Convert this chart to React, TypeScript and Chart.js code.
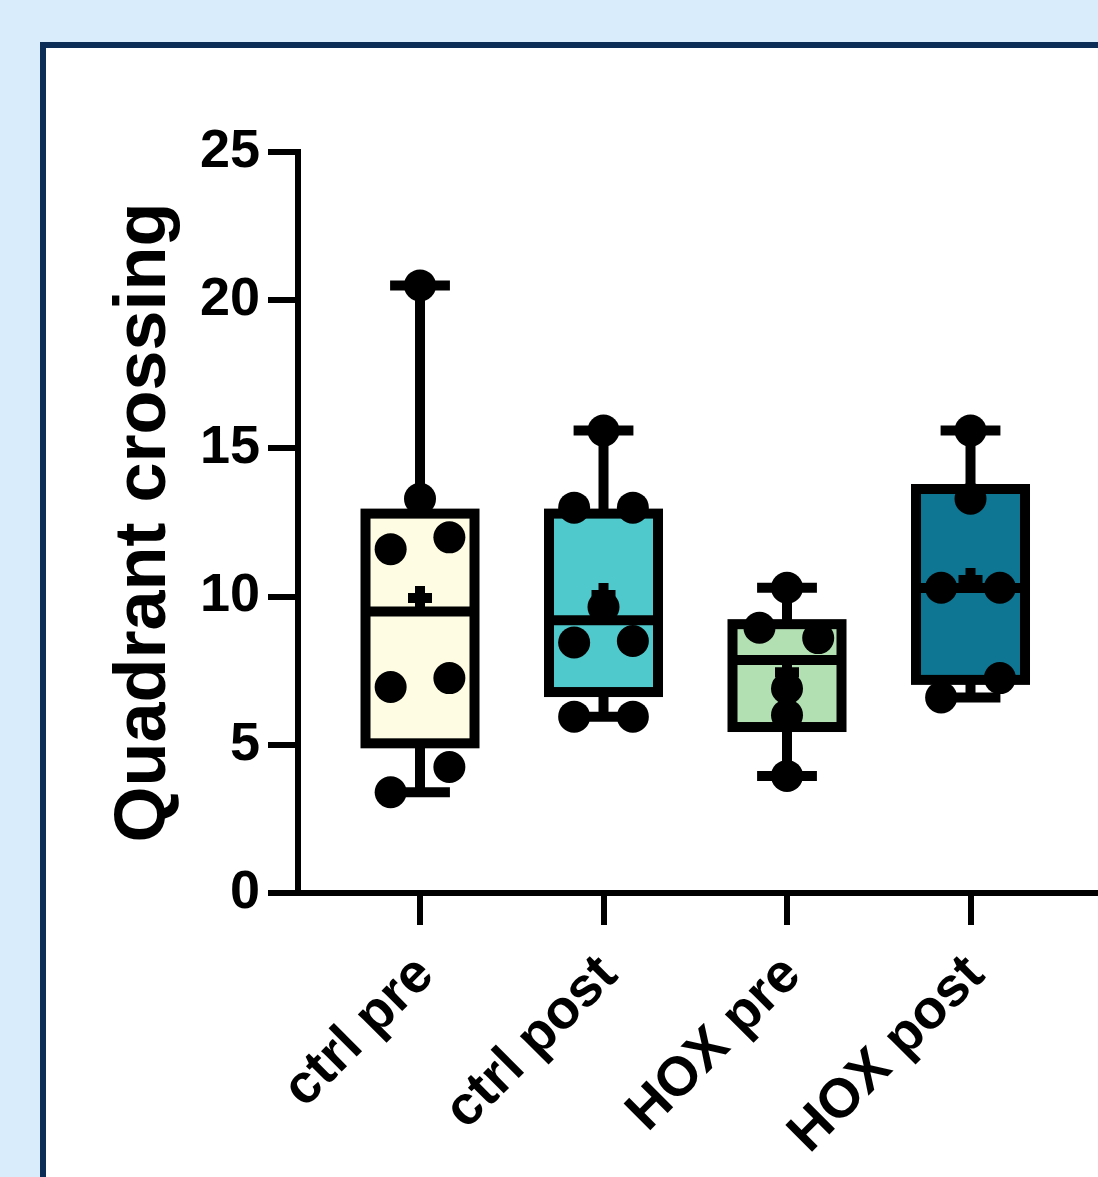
import React, { useEffect, useRef } from 'react';
import { Chart, registerables } from 'chart.js';

Chart.register(...registerables);

// ---- data ----
const categories = ['ctrl pre', 'ctrl post', 'HOX pre', 'HOX post'];

const ctrlPre = [20.5, 13.3, 12.0, 11.6, 7.25, 6.95, 4.25, 3.4];
const ctrlPreJitter = [0, 0, 0.16, -0.16, 0.16, -0.16, 0.16, -0.16];
const ctrlPost = [15.6, 13.0, 13.0, 9.65, 8.5, 8.45, 5.95, 5.95];
const ctrlPostJitter = [0, -0.16, 0.16, 0, 0.16, -0.16, -0.16, 0.16];
const hoxPre = [10.3, 8.95, 8.6, 6.9, 6.0, 3.95];
const hoxPreJitter = [0, -0.15, 0.17, 0, 0, 0];
const hoxPost = [15.6, 13.3, 10.3, 10.3, 7.25, 6.6];
const hoxPostJitter = [0, 0, -0.16, 0.16, 0.16, -0.16];

// box statistics per group (min, q1, median, q3, max, mean)
const whiskerMin = [3.4, 5.95, 3.95, 6.6];
const quartile1 = [5.05, 6.78, 5.6, 7.19];
const medians = [9.5, 9.2, 7.86, 10.29];
const quartile3 = [12.8, 12.8, 9.07, 13.63];
const whiskerMax = [20.5, 15.6, 10.3, 15.6];
const means = [9.95, 10.05, 7.45, 10.56];

const groupFills = ['#fefde4', '#4fc9cc', '#b2e0b3', '#0e7692'];
const yTickValues = [0, 5, 10, 15, 20, 25];

const groups = [ctrlPre, ctrlPost, hoxPre, hoxPost];
const jitters = [ctrlPreJitter, ctrlPostJitter, hoxPreJitter, hoxPostJitter];

const FONT = "'Liberation Sans', Arial, Helvetica, sans-serif";
const BOX_HALF = 0.297;
const CAP_HALF = 0.163;
const LINE_W = 10;
const X_MIN = 0.3351;
const X_MAX = 4.7057;
const LABEL_SHIFT = 0.03;

const boxPlugin = {
  id: 'boxWhisker',
  beforeDatasetsDraw(chart: any) {
    const { ctx } = chart;
    const xs = chart.scales.x;
    const ys = chart.scales.y;
    const line = (x1: number, y1: number, x2: number, y2: number) => {
      ctx.beginPath();
      ctx.moveTo(x1, y1);
      ctx.lineTo(x2, y2);
      ctx.stroke();
    };
    categories.forEach((_, i) => {
      const c = i + 1;
      const xc = xs.getPixelForValue(c);
      const xl = xs.getPixelForValue(c - BOX_HALF);
      const xr = xs.getPixelForValue(c + BOX_HALF);
      const cl = xs.getPixelForValue(c - CAP_HALF);
      const cr = xs.getPixelForValue(c + CAP_HALF);
      const yMin = ys.getPixelForValue(whiskerMin[i]);
      const yQ1 = ys.getPixelForValue(quartile1[i]);
      const yMed = ys.getPixelForValue(medians[i]);
      const yQ3 = ys.getPixelForValue(quartile3[i]);
      const yMax = ys.getPixelForValue(whiskerMax[i]);
      ctx.save();
      ctx.strokeStyle = '#000';
      ctx.lineWidth = LINE_W;
      ctx.lineCap = 'butt';
      ctx.lineJoin = 'miter';
      line(xc, yQ3, xc, yMax);
      line(xc, yQ1, xc, yMin);
      line(cl, yMax, cr, yMax);
      line(cl, yMin, cr, yMin);
      ctx.fillStyle = groupFills[i];
      ctx.fillRect(xl, yQ3, xr - xl, yQ1 - yQ3);
      ctx.strokeRect(xl, yQ3, xr - xl, yQ1 - yQ3);
      line(xl, yMed, xr, yMed);
      ctx.restore();
    });
  },
};

const zeroMargins = (scale: any) => {
  scale.paddingLeft = 0;
  scale.paddingRight = 0;
  if (scale._margins) {
    scale._margins.left = 0;
    scale._margins.right = 0;
  }
};

export default function App() {
  const canvasRef = useRef<HTMLCanvasElement | null>(null);

  useEffect(() => {
    if (!canvasRef.current) return;
    const pointData: { x: number; y: number }[] = [];
    groups.forEach((vals, i) => {
      vals.forEach((v, j) => pointData.push({ x: i + 1 + jitters[i][j], y: v }));
    });
    const meanData = means.map((m, i) => ({ x: i + 1, y: m }));

    const chart = new Chart(canvasRef.current, {
      type: 'scatter',
      data: {
        datasets: [
          {
            label: 'mean',
            data: meanData,
            pointStyle: 'cross',
            pointRadius: 12,
            borderColor: '#000',
            borderWidth: LINE_W,
            backgroundColor: '#000',
          },
          {
            label: 'values',
            data: pointData,
            pointRadius: 16,
            backgroundColor: '#000',
            borderWidth: 0,
          },
        ],
      },
      options: {
        responsive: false,
        animation: false,
        layout: { autoPadding: false, padding: { top: 152, left: 0, right: 0, bottom: 0 } },
        plugins: { legend: { display: false }, tooltip: { enabled: false } },
        scales: {
          x: {
            type: 'linear',
            position: 'bottom',
            min: X_MIN,
            max: X_MAX,
            afterBuildTicks: (scale: any) => {
              scale.ticks = categories.map((_, i) => ({ value: i + 1 }));
            },
            afterFit: (scale: any) => {
              scale.height = 32;
              zeroMargins(scale);
            },
            ticks: { display: false },
            grid: {
              drawOnChartArea: false,
              color: '#000',
              lineWidth: 6,
              tickLength: 32,
            },
            border: { color: '#000', width: 6 },
          },
          xLabels: {
            type: 'linear',
            position: 'bottom',
            min: X_MIN,
            max: X_MAX,
            afterBuildTicks: (scale: any) => {
              scale.ticks = categories.map((_, i) => ({ value: i + 1 + LABEL_SHIFT }));
            },
            afterFit: (scale: any) => {
              scale.height = 1177 - 893 - 32;
              zeroMargins(scale);
            },
            ticks: {
              autoSkip: false,
              minRotation: 45,
              maxRotation: 45,
              padding: 18,
              color: '#000',
              font: { family: FONT, size: 55, weight: 'bold' },
              callback: (v: any) => categories[Math.round(Number(v) - LABEL_SHIFT) - 1] ?? '',
            },
            grid: { display: false, drawTicks: false, drawOnChartArea: false },
            border: { display: false },
          },
          y: {
            min: 0,
            max: 25,
            afterBuildTicks: (scale: any) => {
              scale.ticks = yTickValues.map((v) => ({ value: v }));
            },
            afterFit: (scale: any) => {
              scale.width = 298;
            },
            ticks: {
              padding: 8,
              color: '#000',
              font: { family: FONT, size: 54, weight: 'bold' },
            },
            grid: {
              drawOnChartArea: false,
              color: '#000',
              lineWidth: 6,
              tickLength: 30,
            },
            border: { color: '#000', width: 6 },
            title: {
              display: true,
              text: 'Quadrant crossing',
              color: '#000',
              font: { family: FONT, size: 72, weight: 'bold' },
              padding: { top: 102, bottom: 0 },
            },
          },
        },
      },
      plugins: [boxPlugin],
    } as any);
    return () => chart.destroy();
  }, []);

  return (
    <div
      style={{
        position: 'fixed',
        left: 0,
        top: 0,
        width: 1098,
        height: 1177,
        overflow: 'hidden',
        background: '#d8ecfb',
      }}
    >
      <div
        style={{
          position: 'absolute',
          left: 40,
          top: 42,
          width: 1200,
          height: 1300,
          background: '#ffffff',
          border: '6px solid #0b2d56',
        }}
      />
      <canvas
        ref={canvasRef}
        width={1100}
        height={1177}
        style={{ position: 'absolute', left: 0, top: 0, width: 1100, height: 1177 }}
      />
    </div>
  );
}
